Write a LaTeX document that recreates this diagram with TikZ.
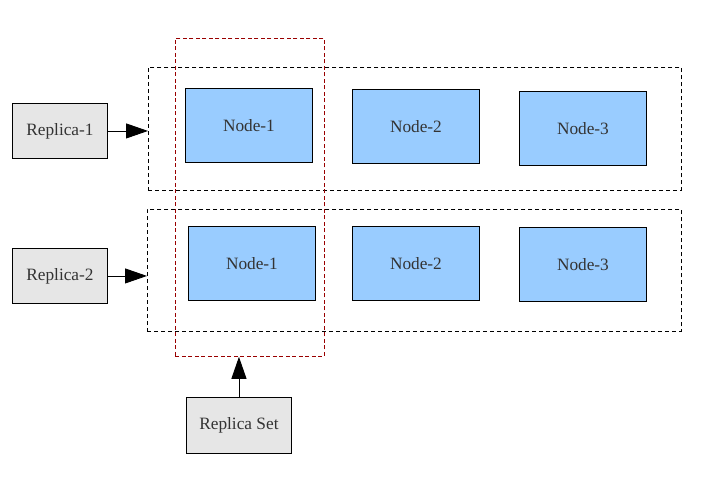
\documentclass[tikz,border=0pt]{standalone}
\usepackage{fontspec}
\setmainfont{Liberation Serif}
\usetikzlibrary{arrows.meta}
\definecolor{nodeblue}{HTML}{99CCFF}
\definecolor{repgray}{HTML}{E6E6E6}
\definecolor{txt}{HTML}{333333}
\definecolor{darkred}{HTML}{990000}
\begin{document}
\begin{tikzpicture}[x=1pt,y=-1pt,
  box/.style={draw=black,line width=0.9pt,text=txt,font=\fontsize{17.3}{19}\selectfont,anchor=north west,inner sep=0pt},
  nodebox/.style={box,fill=nodeblue,minimum width=127pt,minimum height=74pt},
  repbox/.style={box,fill=repgray,minimum width=95pt,minimum height=55pt},
  group/.style={draw=black,dash pattern=on 4pt off 3pt,line width=0.8pt,anchor=north west,inner sep=0pt},
  setbox/.style={draw=darkred,dash pattern=on 4pt off 2.5pt,line width=0.8pt,anchor=north west,inner sep=0pt},
  conn/.style={line width=0.9pt,-{Triangle[length=22pt,width=15pt]}}]
\useasboundingbox (0,0) rectangle (720,477);
% groups
\node[group,minimum width=533pt,minimum height=123pt] (g1) at (148,67) {};
\node[group,minimum width=534pt,minimum height=122pt] (g2) at (147,209) {};
\node[setbox,minimum width=149pt,minimum height=318pt] (rs) at (175,38) {};
% nodes row 1
\node[nodebox] (n11) at (185,88) {Node-1};
\node[nodebox] (n12) at (352,89) {Node-2};
\node[nodebox] (n13) at (519,91) {Node-3};
% nodes row 2
\node[nodebox] (n21) at (188,226) {Node-1};
\node[nodebox] (n22) at (352,226) {Node-2};
\node[nodebox] (n23) at (519,227) {Node-3};
% replicas
\node[repbox] (r1) at (12,103) {Replica-1};
\node[repbox] (r2) at (12,248) {Replica-2};
\node[repbox,minimum width=105pt,minimum height=56pt] (rset) at (186,397) {Replica Set};
% connectors
\draw[conn] (r1.east) -- (r1.east -| g1.west);
\draw[conn] (r2.east) -- (r2.east -| g2.west);
\draw[conn] (rset.north) -- (rset.north |- rs.south);
\end{tikzpicture}
\end{document}
